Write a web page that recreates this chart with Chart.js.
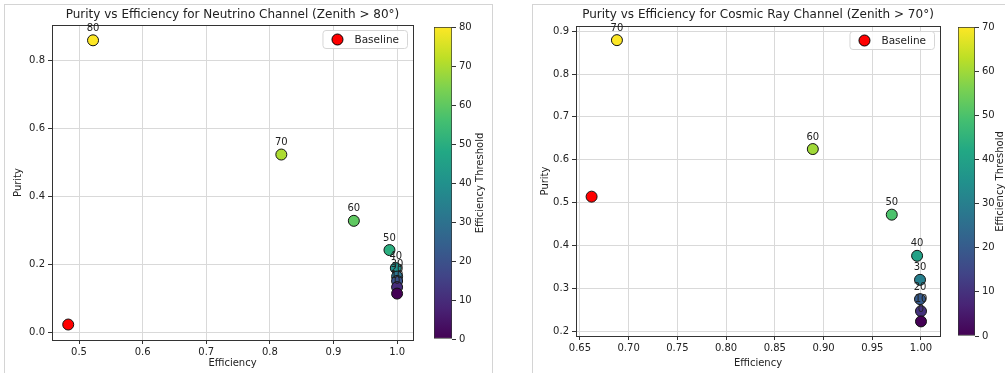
<!DOCTYPE html>
<html>
<head>
<meta charset="utf-8">
<script src="https://cdn.jsdelivr.net/npm/chart.js@4.4.1/dist/chart.umd.min.js"></script>
<style>
    body { margin: 0; background: #fff; width: 1005px; height: 373px; overflow: hidden; position: relative; }
    .panel { position: absolute; top: 4px; height: 380px; border: 1px solid #d4d4d4; box-sizing: border-box; }
    .box { position: absolute; top: 0; height: 373px; }
</style>
</head>
<body>
<div class="panel" style="left:4px;width:489px"></div>
<div class="panel" style="left:532px;width:480px"></div>
<div class="box" style="left:0;width:422px"><canvas id="nuChart"></canvas></div>
<div class="box" style="left:425px;width:65px"><canvas id="nuBar"></canvas></div>
<div class="box" style="left:527px;width:421px"><canvas id="crChart"></canvas></div>
<div class="box" style="left:950px;width:55px"><canvas id="crBar"></canvas></div>
<script>
// Neutrino channel (zenith > 80)
const nuThresholds = [80, 70, 60, 50, 40, 30, 20, 10, 0];
const nuEfficiency = [0.522, 0.818, 0.932, 0.988, 0.998, 1.000, 1.000, 1.000, 1.000];
const nuPurity = [0.858, 0.522, 0.327, 0.241, 0.188, 0.163, 0.150, 0.132, 0.113];
const nuBaseline = { x: 0.483, y: 0.022 };
const nuXTicks = [0.5, 0.6, 0.7, 0.8, 0.9, 1.0];
const nuYTicks = [0.0, 0.2, 0.4, 0.6, 0.8];
const nuBarTicks = [0, 10, 20, 30, 40, 50, 60, 70, 80];

// Cosmic ray channel (zenith > 70)
const crThresholds = [70, 60, 50, 40, 30, 20, 10, 0];
const crEfficiency = [0.688, 0.889, 0.970, 0.996, 0.999, 0.999, 1.000, 1.000];
const crPurity = [0.879, 0.625, 0.472, 0.376, 0.320, 0.275, 0.247, 0.223];
const crBaseline = { x: 0.662, y: 0.514 };
const crXTicks = [0.65, 0.70, 0.75, 0.80, 0.85, 0.90, 0.95, 1.00];
const crYTicks = [0.2, 0.3, 0.4, 0.5, 0.6, 0.7, 0.8, 0.9];
const crBarTicks = [0, 10, 20, 30, 40, 50, 60, 70];

const FONT = "'DejaVu Sans', sans-serif";
const TEXT = '#222';

// viridis colormap stops
const viridisStops = ['#440154', '#482475', '#414487', '#355f8d', '#2a788e', '#21918c',
    '#22a884', '#44bf70', '#7ad151', '#bddf26', '#fde725'];

function hexToRgb(h) {
    return [parseInt(h.substr(1, 2), 16), parseInt(h.substr(3, 2), 16), parseInt(h.substr(5, 2), 16)];
}

function viridis(t) {
    t = Math.max(0, Math.min(1, t));
    const pos = t * (viridisStops.length - 1);
    const i = Math.min(Math.floor(pos), viridisStops.length - 2);
    const f = pos - i;
    const a = hexToRgb(viridisStops[i]), b = hexToRgb(viridisStops[i + 1]);
    const c = a.map((v, k) => Math.round(v + (b[k] - v) * f));
    return 'rgb(' + c.join(',') + ')';
}

// box around the plot area (matplotlib spines)
const framePlugin = {
    id: 'frame',
    beforeDatasetsDraw(chart) {
        const a = chart.chartArea, ctx = chart.ctx;
        ctx.save();
        ctx.strokeStyle = '#333';
        ctx.lineWidth = 1;
        ctx.strokeRect(Math.round(a.left) + 0.5, Math.round(a.top) + 0.5,
            Math.round(a.right - a.left), Math.round(a.bottom - a.top));
        ctx.restore();
    }
};

// threshold labels above each point
const pointLabelPlugin = {
    id: 'pointLabels',
    afterDatasetsDraw(chart, args, opts) {
        const ctx = chart.ctx;
        const meta = chart.getDatasetMeta(0);
        ctx.save();
        ctx.font = '10px ' + FONT;
        ctx.fillStyle = TEXT;
        ctx.textAlign = 'center';
        ctx.textBaseline = 'middle';
        meta.data.forEach((el, i) => {
            ctx.fillText(String(opts.labels[i]), el.x, el.y - 12);
        });
        ctx.restore();
    }
};

// legend box in the upper right corner
const cornerLegendPlugin = {
    id: 'cornerLegend',
    afterDraw(chart) {
        const ds = chart.data.datasets[1];
        const a = chart.chartArea, ctx = chart.ctx;
        ctx.save();
        ctx.font = '10.5px ' + FONT;
        const tw = ctx.measureText(ds.label).width;
        const w = 32 + tw + 8, h = 18;
        const x = a.right - 6 - w, y = a.top + 5;
        ctx.beginPath();
        ctx.roundRect(x + 0.5, y + 0.5, w, h, 3);
        ctx.fillStyle = 'rgba(255,255,255,0.85)';
        ctx.fill();
        ctx.strokeStyle = '#d6d6d6';
        ctx.stroke();
        ctx.beginPath();
        ctx.arc(x + 15, y + h / 2 + 0.5, 5.5, 0, Math.PI * 2);
        ctx.fillStyle = ds.backgroundColor;
        ctx.fill();
        ctx.strokeStyle = '#000';
        ctx.lineWidth = 1;
        ctx.stroke();
        ctx.fillStyle = TEXT;
        ctx.textBaseline = 'middle';
        ctx.fillText(ds.label, x + 32, y + h / 2 + 1);
        ctx.restore();
    }
};

// rotated colorbar label
const barTitlePlugin = {
    id: 'barTitle',
    afterDraw(chart, args, opts) {
        const a = chart.chartArea, ctx = chart.ctx;
        ctx.save();
        ctx.translate(opts.x, (a.top + a.bottom) / 2);
        ctx.rotate(-Math.PI / 2);
        ctx.font = '10px ' + FONT;
        ctx.fillStyle = TEXT;
        ctx.textAlign = 'center';
        ctx.textBaseline = 'middle';
        ctx.fillText(opts.text, 0, 0);
        ctx.restore();
    }
};

function makeScatter(id, cfg) {
    const pts = cfg.eff.map((e, i) => ({ x: e, y: cfg.pur[i] }));
    const colors = cfg.thr.map(t => viridis(t / cfg.vmax));
    return new Chart(document.getElementById(id), {
        type: 'scatter',
        data: {
            datasets: [{
                label: 'Thresholds',
                data: pts,
                pointRadius: 5.5,
                pointBackgroundColor: colors,
                pointBorderColor: '#111',
                pointBorderWidth: 1
            }, {
                label: 'Baseline',
                data: [cfg.base],
                pointRadius: 5.5,
                backgroundColor: '#ff0000',
                pointBackgroundColor: '#ff0000',
                pointBorderColor: '#111',
                pointBorderWidth: 1
            }]
        },
        options: {
            responsive: true,
            maintainAspectRatio: false,
            animation: false,
            layout: { padding: { left: 8, right: cfg.padRight, top: 0, bottom: 0 } },
            plugins: {
                legend: { display: false },
                tooltip: { enabled: false },
                title: {
                    display: true,
                    fullSize: false,
                    text: cfg.title,
                    color: TEXT,
                    font: { family: FONT, size: 12, weight: 'normal' },
                    padding: { top: 8, bottom: cfg.titleBottom }
                },
                pointLabels: { labels: cfg.thr },
                barTitle: false
            },
            scales: {
                x: {
                    type: 'linear',
                    min: cfg.xMin,
                    max: cfg.xMax,
                    afterBuildTicks: s => { s.ticks = cfg.xTicks.map(v => ({ value: v })); },
                    afterFit: s => { s.height = cfg.xAxisH; },
                    ticks: {
                        autoSkip: false, maxRotation: 0, padding: 2, color: TEXT,
                        font: { family: FONT, size: 10 },
                        callback: v => v.toFixed(cfg.xDec)
                    },
                    grid: { color: '#d9d9d9', tickColor: '#333', tickLength: 4 },
                    border: { color: '#333' },
                    title: { display: true, text: 'Efficiency', color: TEXT, font: { family: FONT, size: 10 }, padding: { top: 2, bottom: 4 } }
                },
                y: {
                    type: 'linear',
                    min: cfg.yMin,
                    max: cfg.yMax,
                    afterBuildTicks: s => { s.ticks = cfg.yTicks.map(v => ({ value: v })); },
                    afterFit: s => { s.width = cfg.yAxisW; },
                    ticks: {
                        autoSkip: false, padding: 3, color: TEXT,
                        font: { family: FONT, size: 10 },
                        callback: v => v.toFixed(1)
                    },
                    grid: { color: '#d9d9d9', tickColor: '#333', tickLength: 4 },
                    border: { color: '#333' },
                    title: { display: true, text: 'Purity', color: TEXT, font: { family: FONT, size: 10 }, padding: { top: 4, bottom: 2 } }
                }
            }
        },
        plugins: [framePlugin, pointLabelPlugin, cornerLegendPlugin]
    });
}

function makeColorbar(id, cfg) {
    return new Chart(document.getElementById(id), {
        type: 'bar',
        data: {
            labels: [''],
            datasets: [{
                data: [cfg.vmax],
                backgroundColor: ctx => {
                    const a = ctx.chart.chartArea;
                    if (!a) return viridis(0.5);
                    const g = ctx.chart.ctx.createLinearGradient(0, a.bottom, 0, a.top);
                    viridisStops.forEach((c, i) => g.addColorStop(i / (viridisStops.length - 1), c));
                    return g;
                },
                borderColor: '#333',
                borderWidth: 1,
                borderSkipped: false,
                barPercentage: 1,
                categoryPercentage: 1
            }]
        },
        options: {
            responsive: true,
            maintainAspectRatio: false,
            animation: false,
            layout: { padding: { left: cfg.padLeft, right: 0, top: 27, bottom: cfg.padBottom } },
            plugins: {
                legend: { display: false },
                tooltip: { enabled: false },
                barTitle: { text: 'Efficiency Threshold', x: cfg.titleX }
            },
            scales: {
                x: { display: false },
                y: {
                    position: 'right',
                    min: 0,
                    max: cfg.vmax,
                    afterBuildTicks: s => { s.ticks = cfg.ticks.map(v => ({ value: v })); },
                    afterFit: s => { s.width = cfg.axisW; },
                    ticks: { padding: 3, color: TEXT, font: { family: FONT, size: 10 } },
                    grid: { drawOnChartArea: false, tickColor: '#333', tickLength: 4 },
                    border: { display: false }
                }
            }
        },
        plugins: [barTitlePlugin]
    });
}

makeScatter('nuChart', {
    title: 'Purity vs Efficiency for Neutrino Channel (Zenith > 80°)',
    thr: nuThresholds, eff: nuEfficiency, pur: nuPurity, base: nuBaseline,
    vmax: 80,
    xMin: 0.4575, xMax: 1.025, yMin: -0.0235, yMax: 0.903,
    xTicks: nuXTicks, yTicks: nuYTicks, xDec: 1,
    padRight: 9, titleBottom: 2.6, xAxisH: 33, yAxisW: 44
});

makeScatter('crChart', {
    title: 'Purity vs Efficiency for Cosmic Ray Channel (Zenith > 70°)',
    thr: crThresholds, eff: crEfficiency, pur: crPurity, base: crBaseline,
    vmax: 70,
    xMin: 0.646, xMax: 1.0195, yMin: 0.189, yMax: 0.912,
    xTicks: crXTicks, yTicks: crYTicks, xDec: 2,
    padRight: 8, titleBottom: 3.6, xAxisH: 37, yAxisW: 41
});

makeColorbar('nuBar', { vmax: 80, ticks: nuBarTicks, padLeft: 9, padBottom: 34, axisW: 38, titleX: 55 });
makeColorbar('crBar', { vmax: 70, ticks: crBarTicks, padLeft: 8, padBottom: 37, axisW: 30, titleX: 50 });
</script>
</body>
</html>
